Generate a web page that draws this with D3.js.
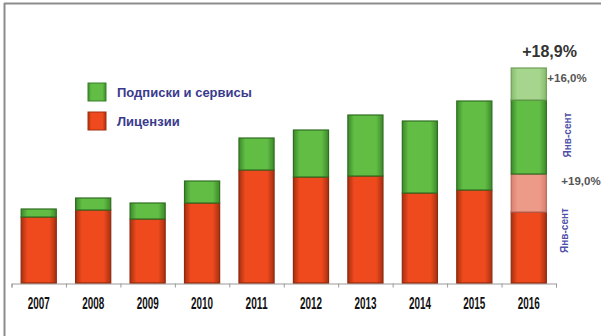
<!DOCTYPE html>
<html>
<head>
<meta charset="utf-8">
<script src="https://cdn.jsdelivr.net/npm/d3@7"></script>
<style>
  html, body { margin: 0; padding: 0; background: #fff; }
  svg { display: block; }
</style>
</head>
<body>
<svg id="chart"></svg>
<script>
// stacked columns: licences + subscriptions, 2016 shows growth on top

const years = ["2007", "2008", "2009", "2010", "2011", "2012", "2013", "2014", "2015", "2016"];
const licenses = [66, 73, 64, 80, 113, 106, 107, 90, 93, 71];
const subscriptions = [8, 12, 16, 22, 32, 47, 61, 72, 89, 74];
// 2016 increments (Jan-Sep growth)
const licGrowth2016 = 38;
const subGrowth2016 = 32;
const legendLabels = ["Подписки и сервисы", "Лицензии"];
const totalGrowthLabel = "+18,9%";
const subGrowthLabel = "+16,0%";
const licGrowthLabel = "+19,0%";
const periodLabel = "Янв-сент";

const w = 601;
const h = 336;
const margin = {top: 63, left: 11.5, bottom: 53, right: 45};

const red = "#ef4a1e";
const green = "#62bd45";
const lightRed = "#ee9a89";
const lightGreen = "#a6d58d";
const textBlue = "#3a3a8c";

const svg = d3.select("#chart")
    .attr("width", w)
    .attr("height", h);

// gradients to get the rounded column look
const defs = svg.append("defs");
const makeGrad = (id, edge, mid) => {
    const g = defs.append("linearGradient").attr("id", id)
        .attr("x1", "0%").attr("x2", "100%").attr("y1", "0%").attr("y2", "0%");
    g.append("stop").attr("offset", "0%").attr("stop-color", edge);
    g.append("stop").attr("offset", "18%").attr("stop-color", mid);
    g.append("stop").attr("offset", "80%").attr("stop-color", mid);
    g.append("stop").attr("offset", "100%").attr("stop-color", edge);
};
makeGrad("g-red", "#a8300f", red);
makeGrad("g-green", "#3c8a2a", green);
makeGrad("g-lred", "#d98070", lightRed);
makeGrad("g-lgreen", "#86bd6e", lightGreen);

// frame
svg.append("line").attr("x1", 4.5).attr("x2", 4.5).attr("y1", 3).attr("y2", h)
    .attr("stroke", "#8c8c8c").attr("stroke-width", 2);
svg.append("line").attr("x1", 4).attr("x2", w).attr("y1", 3.5).attr("y2", 3.5)
    .attr("stroke", "#8c8c8c").attr("stroke-width", 2);

// SCALES
const xScale = d3.scaleBand()
    .domain(years)
    .range([margin.left, w - margin.right])
    .padding(0);

const barW = xScale.bandwidth() * 0.645;
const barOff = (xScale.bandwidth() - barW) / 2;

const yScale = d3.scaleLinear()
    .domain([0, 220])
    .range([h - margin.bottom, margin.top]);

// AXIS (ticks at band edges)
const edgeScale = d3.scaleLinear()
    .domain([0, years.length])
    .range([margin.left, w - margin.right]);

const xAxis = d3.axisBottom(edgeScale)
    .tickValues(d3.range(years.length + 1))
    .tickSize(4)
    .tickFormat("");

const axisG = svg.append("g")
    .attr("transform", `translate(0,${yScale(0) + 0.5})`)
    .call(xAxis);
axisG.selectAll("path, line").attr("stroke", "#9a9a9a");

svg.selectAll(".year")
    .data(years)
    .join("text")
    .attr("class", "year")
    .attr("x", d => xScale(d) + xScale.bandwidth() / 2)
    .attr("y", 309)
    .attr("text-anchor", "middle")
    .attr("textLength", 22)
    .attr("lengthAdjust", "spacingAndGlyphs")
    .style("font-family", "'Liberation Sans Narrow', 'Liberation Sans', Arial, sans-serif")
    .style("font-weight", "bold")
    .style("font-size", "16px")
    .attr("fill", "#111")
    .text(d => d);

// STACKS
const segs = [];
years.forEach((y, i) => {
    let base = 0;
    const push = (v, fill) => {
        segs.push({year: y, y0: base, y1: base + v, fill});
        base += v;
    };
    push(licenses[i], "url(#g-red)");
    if (y === "2016") push(licGrowth2016, "url(#g-lred)");
    push(subscriptions[i], "url(#g-green)");
    if (y === "2016") push(subGrowth2016, "url(#g-lgreen)");
});

const strokeFor = f => f.includes("red") ? (f.includes("lred") ? "#b86a5c" : "#8e2a10") : (f.includes("lgreen") ? "#6e9e58" : "#2f6e22");

svg.selectAll(".seg")
    .data(segs)
    .join("rect")
    .attr("class", "seg")
    .attr("x", d => xScale(d.year) + barOff)
    .attr("width", barW)
    .attr("y", d => yScale(d.y1))
    .attr("height", d => yScale(d.y0) - yScale(d.y1))
    .attr("fill", d => d.fill)
    .attr("stroke", d => strokeFor(d.fill))
    .attr("stroke-width", 1.2);

// 2016 ANNOTATIONS
const x2016 = xScale("2016") + barOff;
const top2016 = licenses[9] + licGrowth2016 + subscriptions[9] + subGrowth2016;

svg.append("text")
    .attr("x", x2016 + 11)
    .attr("y", yScale(top2016) - 11)
    .style("font-family", "'Liberation Sans', Arial, sans-serif")
    .style("font-weight", "bold")
    .style("font-size", "16px")
    .attr("fill", "#333")
    .text(totalGrowthLabel);

svg.append("text")
    .attr("x", x2016 + barW + 1)
    .attr("y", yScale(top2016) + 14)
    .style("font-family", "'Liberation Sans', Arial, sans-serif")
    .style("font-size", "11.5px")
    .style("font-weight", "bold")
    .attr("fill", "#555")
    .text(subGrowthLabel);

svg.append("text")
    .attr("x", x2016 + barW + 15)
    .attr("y", yScale(licenses[9] + licGrowth2016) + 11)
    .style("font-family", "'Liberation Sans', Arial, sans-serif")
    .style("font-size", "11.5px")
    .style("font-weight", "bold")
    .attr("fill", "#555")
    .text(licGrowthLabel);

const periodLabels = [
    {x: 571, y: yScale(licenses[9] + licGrowth2016 + subscriptions[9] / 2 + 2)},
    {x: 568, y: yScale((licenses[9] + licGrowth2016) / 2 - 2)}
];
svg.selectAll(".period")
    .data(periodLabels)
    .join("text")
    .attr("class", "period")
    .attr("transform", d => `translate(${d.x},${d.y}) rotate(-90)`)
    .attr("text-anchor", "middle")
    .style("font-family", "'Liberation Sans', Arial, sans-serif")
    .style("font-size", "10px")
    .style("font-weight", "bold")
    .attr("fill", "#5050a8")
    .text(periodLabel);

// LEGEND
const legend = svg.append("g").attr("transform", "translate(88,83)");
const legendFills = ["url(#g-green)", "url(#g-red)"];
legendLabels.forEach((lab, i) => {
    const row = legend.append("g").attr("transform", `translate(0,${i * 29})`);
    row.append("rect")
        .attr("width", 18).attr("height", 18)
        .attr("fill", legendFills[i])
        .attr("stroke", i === 0 ? "#3a7e2a" : "#a0300f")
        .attr("stroke-width", 1);
    row.append("text")
        .attr("x", 29)
        .attr("y", 14)
        .style("font-family", "'Liberation Sans', Arial, sans-serif")
        .style("font-size", "13px")
        .style("font-weight", "bold")
        .attr("fill", textBlue)
        .text(lab);
});
</script>
</body>
</html>
